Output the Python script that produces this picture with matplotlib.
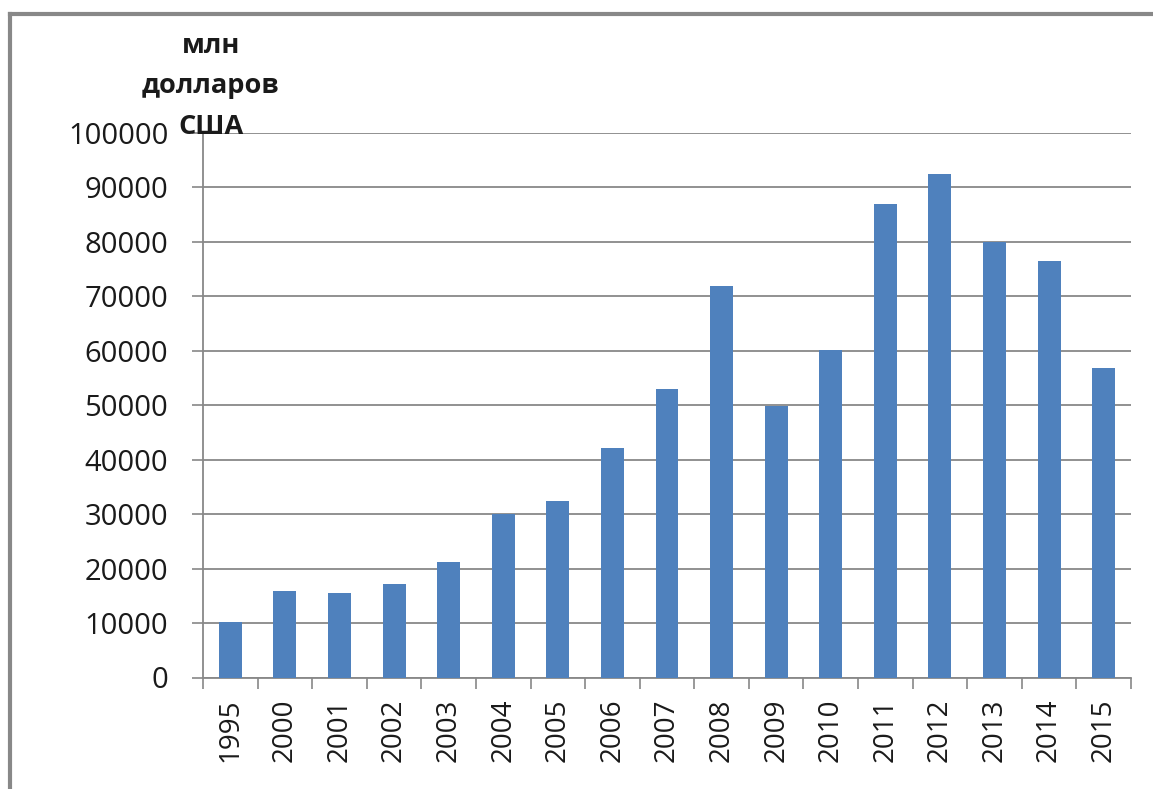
import numpy as np
import matplotlib
matplotlib.use("Agg")
from matplotlib import pyplot as plt
from matplotlib.lines import Line2D

years = ["1995", "2000", "2001", "2002", "2003", "2004", "2005", "2006", "2007",
         "2008", "2009", "2010", "2011", "2012", "2013", "2014", "2015"]
values = [10200, 15900, 15600, 17200, 21200, 30000, 32400, 42200, 52900,
          71900, 49800, 60200, 87000, 92400, 79900, 76500, 56900]
y_ticks = list(range(0, 100001, 10000))
unit_lines = ["млн", "долларов", "США"]

plt.rcParams['font.family'] = ['Open Sans', 'DejaVu Sans']

fig = plt.figure(figsize=(11.53, 7.89), dpi=100)
ax = fig.add_axes([203/1153, 1 - 677.5/789, 928/1153, 544.5/789])

x = np.arange(len(years))
ax.bar(x, values, width=0.42, color="#4F81BD", zorder=3)

ax.set_xlim(-0.5, len(years) - 0.5)
ax.set_ylim(0, 100000)
ax.set_yticks(y_ticks)
ax.set_yticklabels([str(v) for v in y_ticks], fontsize=21, color="#1a1a1a")
ax.grid(axis="y", color="#888888", linewidth=1.3, zorder=0)

# boundaries between categories get the tick marks, labels sit in the middle
ax.set_xticks(np.arange(-0.5, len(years)), minor=False)
ax.set_xticklabels([], minor=False)
ax.set_xticks(x, minor=True)
ax.set_xticklabels(years, minor=True, rotation=90, fontsize=20, color="#1a1a1a")
ax.tick_params(axis="x", which="major", length=8, color="#888888", width=1.2)
ax.tick_params(axis="x", which="minor", length=0, pad=15)
ax.tick_params(axis="y", length=8, color="#888888", width=1.2, pad=17)

for s in ["top", "right"]:
    ax.spines[s].set_visible(False)
for s in ["left", "bottom"]:
    ax.spines[s].set_color("#888888")
    ax.spines[s].set_linewidth(1.3)

# unit label, one line per text so that it can sit close to the top tick label
for line, ypix in zip(unit_lines, [46, 86, 127]):
    fig.text(211/1153, 1 - ypix/789, line, ha="center", va="center",
             fontsize=19.5, fontweight="bold", color="#1a1a1a")

# outer gray frame (top and left edges visible)
fig.add_artist(Line2D([10/1153, 10/1153], [0, 1 - 14/789], color="#888888",
                      linewidth=3, transform=fig.transFigure))
fig.add_artist(Line2D([10/1153, 1], [1 - 14/789, 1 - 14/789], color="#888888",
                      linewidth=3, transform=fig.transFigure))

fig.savefig("out.png", dpi=100)
